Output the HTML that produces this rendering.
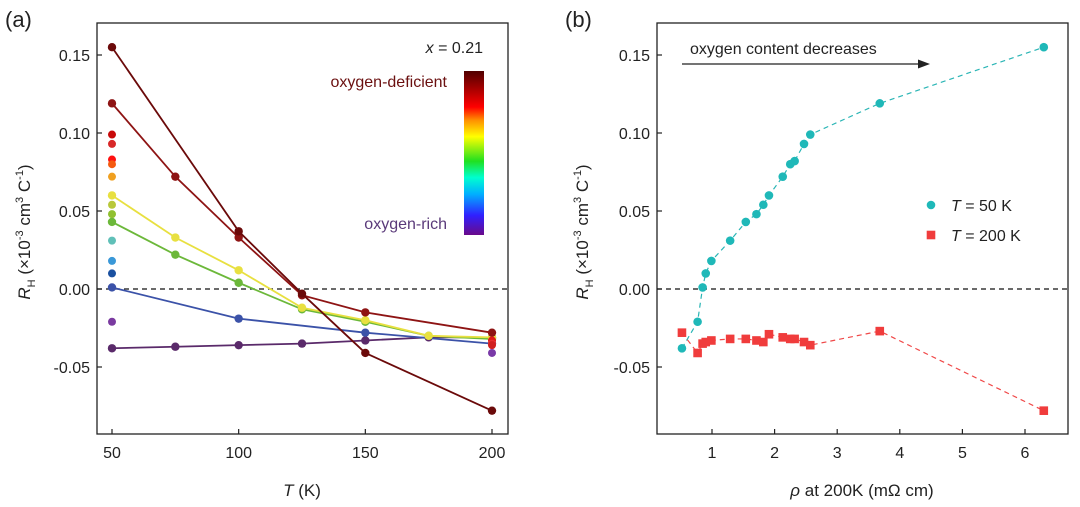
<!DOCTYPE html>
<html><head><meta charset="utf-8">
<style>
html,body{margin:0;padding:0;background:#fff;}
svg{display:block;font-family:"Liberation Sans",Arial,sans-serif;}
</style></head>
<body>
<svg id="c" width="1080" height="507" viewBox="0 0 1080 507" xmlns="http://www.w3.org/2000/svg">
<defs>
<linearGradient id="cb" x1="0" y1="1" x2="0" y2="0">
<stop offset="0" stop-color="#6a0a8a"/><stop offset="0.12" stop-color="#3020ff"/><stop offset="0.25" stop-color="#00b0ff"/><stop offset="0.35" stop-color="#00ffd0"/><stop offset="0.45" stop-color="#20e020"/><stop offset="0.6" stop-color="#ffff00"/><stop offset="0.7" stop-color="#ff9000"/><stop offset="0.78" stop-color="#ff0000"/><stop offset="1" stop-color="#500000"/>
</linearGradient>
</defs>
<text x="5" y="27" font-size="22" fill="#222">(a)</text>
<text x="565" y="27" font-size="22" fill="#222">(b)</text>
<g id="ga"></g>
<g id="gb"></g>
</svg>
<script>
// Panel (a) data
const tempsA = [50,75,100,125,150,175,200];
const seriesColors = ["#6b0a0a","#8e1414","#e8e040","#6cb83a","#3b52a8","#5a2a6a"];
const seriesA0 = [0.155,null,0.037,-0.003,-0.041,null,-0.078];
const seriesA1 = [0.119,0.072,0.033,-0.004,-0.015,null,-0.028];
const seriesA2 = [0.060,0.033,0.012,-0.012,-0.020,-0.030,-0.031];
const seriesA3 = [0.043,0.022,0.004,-0.013,-0.021,-0.030,-0.032];
const seriesA4 = [0.001,null,-0.019,null,-0.028,null,-0.035];
const seriesA5 = [-0.038,-0.037,-0.036,-0.035,-0.033,-0.031,-0.031];
const isoT = [50,50,50,50,50,50,50,50,50,50,50,200,200,200,200];
const isoV = [0.099,0.093,0.083,0.080,0.072,0.054,0.048,0.031,0.018,0.010,-0.021,-0.033,-0.035,-0.036,-0.041];
const isoC = ["#c80a0a","#d82828","#ff1010","#f55a10","#f0a020","#b8c83a","#90c030","#60c0b8","#3a98d8","#1a50a0","#7a3aa0","#e01818","#e83030","#d02020","#7a3aa8"];
const xTicksA = [50,100,150,200];
const yTicks = [-0.05,0,0.05,0.10,0.15];
const yTickLabels = ["-0.05","0.00","0.05","0.10","0.15"];
// Panel (b) data
const rho = [0.52,0.77,0.85,0.90,0.99,1.29,1.54,1.71,1.82,1.91,2.13,2.25,2.32,2.47,2.57,3.68,6.30];
const rh50 = [-0.038,-0.021,0.001,0.010,0.018,0.031,0.043,0.048,0.054,0.060,0.072,0.080,0.082,0.093,0.099,0.119,0.155];
const rh200 = [-0.028,-0.041,-0.035,-0.034,-0.033,-0.032,-0.032,-0.033,-0.034,-0.029,-0.031,-0.032,-0.032,-0.034,-0.036,-0.027,-0.078];
const xTicksB = [1,2,3,4,5,6];

const NS="http://www.w3.org/2000/svg";
function mk(p,tag,a){const e=document.createElementNS(NS,tag);for(const k in a)e.setAttribute(k,a[k]);p.appendChild(e);return e;}
const yS = v => 289 - v*1560;
const xA = t => 112 + (t-50)*(380/150);
const xB = r => 649.4 + r*62.6;

function frame(g,x0,x1,ticks,labels,xs,name){
  const r=mk(g,'rect',{x:x0,y:23,width:x1-x0,height:411,fill:'none',stroke:'#222','stroke-width':1.3});
  
  
  yTicks.forEach((v,i)=>{
    const y=yS(v);
    mk(g,'line',{x1:x0,y1:y,x2:x0+5,y2:y,stroke:'#222','stroke-width':1.2});
    const t=mk(g,'text',{x:x0-7,y:y+6,'font-size':16,'text-anchor':'end',fill:'#222'});
    t.textContent=yTickLabels[i];
    
    
  });
  ticks.forEach(v=>{
    const x=xs(v);
    mk(g,'line',{x1:x,y1:434,x2:x,y2:429,stroke:'#222','stroke-width':1.2});
    const t=mk(g,'text',{x:x,y:458,'font-size':16,'text-anchor':'middle',fill:'#222'});
    t.textContent=String(v);
    
    
  });
  mk(g,'line',{x1:x0,y1:yS(0),x2:x1,y2:yS(0),stroke:'#111','stroke-width':1.2,'stroke-dasharray':'5,4'});
}
function ylabel(g,x){
  const t=mk(g,'text',{transform:`translate(${x},232) rotate(-90)`,'font-size':17,'text-anchor':'middle',fill:'#222'});
  t.innerHTML='<tspan font-style="italic">R</tspan><tspan font-size="11" dy="5">H</tspan><tspan dy="-5"> (×10</tspan><tspan font-size="11" dy="-7">-3</tspan><tspan dy="7"> cm</tspan><tspan font-size="11" dy="-7">3</tspan><tspan dy="7"> C</tspan><tspan font-size="11" dy="-7">-1</tspan><tspan dy="7">)</tspan>';
  
  
}

// Panel a
const ga=document.getElementById('ga');
frame(ga,97,508,xTicksA,null,xA,'panel-a');
ylabel(ga,30);
const xt=mk(ga,'text',{x:302,y:496,'font-size':17,'text-anchor':'middle',fill:'#222'});
xt.innerHTML='<tspan font-style="italic">T</tspan> (K)';


[seriesA5,seriesA4,seriesA3,seriesA2,seriesA1,seriesA0].forEach((s,k)=>{
  const col=seriesColors[5-k];
  const pts=[];
  s.forEach((v,i)=>{if(v!==null)pts.push([xA(tempsA[i]),yS(v)]);});
  const pl=mk(ga,'polyline',{points:pts.map(p=>p.join(',')).join(' '),fill:'none',stroke:col,'stroke-width':1.8});
  
  
  pts.forEach(p=>{
    const c=mk(ga,'circle',{cx:p[0],cy:p[1],r:4.2,fill:col});
    
    
  });
});
isoV.forEach((v,i)=>{
  const c=mk(ga,'circle',{cx:xA(isoT[i]),cy:yS(v),r:4,fill:isoC[i]});
  
  
});
const cbar=mk(ga,'rect',{x:464,y:71,width:20,height:164,fill:'url(#cb)'});


const xl=mk(ga,'text',{x:483,y:53,'font-size':16,'text-anchor':'end',fill:'#222'});
xl.innerHTML='<tspan font-style="italic">x</tspan> = 0.21';


const od=mk(ga,'text',{x:447,y:87,'font-size':16,'text-anchor':'end',fill:'#6b1010'});
od.textContent='oxygen-deficient';


const orr=mk(ga,'text',{x:447,y:229,'font-size':16,'text-anchor':'end',fill:'#5a3a7a'});
orr.textContent='oxygen-rich';



// Panel b
const gb=document.getElementById('gb');
frame(gb,657,1068,xTicksB,null,xB,'panel-b');
ylabel(gb,588);
const xt2=mk(gb,'text',{x:862,y:496,'font-size':17,'text-anchor':'middle',fill:'#222'});
xt2.innerHTML='<tspan font-style="italic">ρ</tspan> at 200K (mΩ cm)';


const l50=mk(gb,'polyline',{points:rho.map((r,i)=>xB(r)+','+yS(rh50[i])).join(' '),fill:'none',stroke:'#2ab5b5','stroke-width':1.2,'stroke-dasharray':'5,4'});


const l200=mk(gb,'polyline',{points:rho.map((r,i)=>xB(r)+','+yS(rh200[i])).join(' '),fill:'none',stroke:'#f04848','stroke-width':1.2,'stroke-dasharray':'5,4'});


rho.forEach((r,i)=>{
  const c=mk(gb,'circle',{cx:xB(r),cy:yS(rh50[i]),r:4.3,fill:'#1fb8b8'});
  
  
  const s=mk(gb,'rect',{x:xB(r)-4.3,y:yS(rh200[i])-4.3,width:8.6,height:8.6,fill:'#f03c3c'});
  
  
});
const arr=mk(gb,'line',{x1:682,y1:64,x2:922,y2:64,stroke:'#222','stroke-width':1.3});


mk(gb,'polygon',{points:'930,64 918,59.5 918,68.5',fill:'#222'});
const at=mk(gb,'text',{x:690,y:54,'font-size':16,fill:'#222'});
at.textContent='oxygen content decreases';


const lg1=mk(gb,'circle',{cx:931,cy:205,r:4.3,fill:'#1fb8b8'});


const lt1=mk(gb,'text',{x:951,y:211,'font-size':16,fill:'#222'});
lt1.innerHTML='<tspan font-style="italic">T</tspan> = 50 K';


const lg2=mk(gb,'rect',{x:926.7,y:230.7,width:8.6,height:8.6,fill:'#f03c3c'});


const lt2=mk(gb,'text',{x:951,y:241,'font-size':16,fill:'#222'});
lt2.innerHTML='<tspan font-style="italic">T</tspan> = 200 K';


</script>
</body></html>
